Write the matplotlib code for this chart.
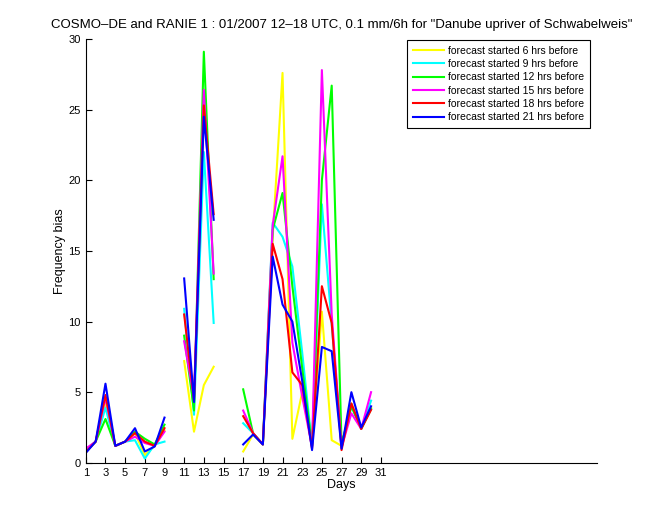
import numpy as np
import matplotlib
matplotlib.use("Agg")
import matplotlib.pyplot as plt

plt.rcParams['font.family'] = ['Liberation Sans', 'DejaVu Sans']

nan = np.nan
days = np.arange(1, 31)

# frequency bias per forecast start (NaN = no data)
bias_6h = [0.9, 1.5, 4.3, 1.2, 1.5, 2.1, 0.55, 1.2, 2.3, nan,
           7.2, 2.2, 5.5, 6.8, nan, nan, 0.8, 2.0, 1.3, 16.0,
           27.6, 1.7, 5.0, 1.3, 10.7, 1.6, 1.2, 4.2, 2.4, 3.9]
bias_9h = [0.95, 1.5, 3.9, 1.2, 1.5, 1.6, 0.3, 1.3, 1.5, nan,
           10.9, 3.4, 22.0, 9.9, nan, nan, 2.8, 2.1, 1.3, 17.0,
           16.0, 13.9, 7.8, 1.2, 18.3, 9.8, 1.2, 4.0, 2.4, 4.4]
bias_12h = [0.8, 1.5, 3.1, 1.2, 1.5, 2.2, 1.7, 1.3, 2.7, nan,
            9.0, 3.7, 29.1, 13.0, nan, nan, 5.2, 2.1, 1.3, 16.5,
            19.1, 12.5, 6.7, 1.2, 20.0, 26.7, 1.3, 4.0, 2.4, 3.8]
bias_15h = [1.0, 1.5, 4.6, 1.2, 1.5, 1.85, 1.4, 1.2, 2.2, nan,
            8.6, 4.6, 26.4, 13.4, nan, nan, 3.7, 2.1, 1.3, 16.8,
            21.7, 8.5, 4.7, 1.1, 27.8, 10.5, 1.1, 3.5, 2.4, 5.0]
bias_18h = [0.75, 1.5, 4.8, 1.2, 1.5, 2.1, 1.5, 1.2, 2.45, nan,
            10.5, 4.4, 25.3, 17.6, nan, nan, 3.3, 2.1, 1.3, 15.5,
            13.0, 6.4, 5.5, 1.0, 12.5, 9.9, 0.9, 4.2, 2.4, 3.75]
bias_21h = [0.7, 1.5, 5.6, 1.2, 1.5, 2.45, 0.8, 1.15, 3.2, nan,
            13.05, 4.3, 24.5, 17.2, nan, nan, 1.3, 2.0, 1.3, 14.6,
            11.2, 10.0, 5.8, 0.9, 8.2, 7.9, 1.0, 5.0, 2.5, 4.0]

labels = ["forecast started 6 hrs before", "forecast started 9 hrs before",
          "forecast started 12 hrs before", "forecast started 15 hrs before",
          "forecast started 18 hrs before", "forecast started 21 hrs before"]
colors = ["#ffff00", "#00ffff", "#00ff00", "#ff00ff", "#ff0000", "#0000ff"]
series = [bias_6h, bias_9h, bias_12h, bias_15h, bias_18h, bias_21h]

fig = plt.figure(figsize=(6.6, 5.2), dpi=100)
ax = fig.add_axes([0.13, 0.11, 0.775, 0.815])

for vals, c, lab in zip(series, colors, labels):
    ax.plot(days, vals, color=c, lw=1.5, label=lab)

ax.set_xlim(1, 53)
ax.set_ylim(0, 30)
ax.set_xticks(np.arange(1, 32, 2))
ax.set_yticks(np.arange(0, 31, 5))
ax.tick_params(direction="in", length=4, labelsize=8, top=False, right=False)
ax.spines["top"].set_visible(False)
ax.spines["right"].set_visible(False)

ax.set_xlabel("Days", fontsize=9, labelpad=1)
ax.set_ylabel("Frequency bias", fontsize=9, labelpad=2)
ax.set_title('COSMO\u2013DE and RANIE 1 : 01/2007 12\u201318 UTC, 0.1 mm/6h for "Danube upriver of Schwabelweis"',
             fontsize=9.5, pad=8)

leg = ax.legend(loc="upper right", bbox_to_anchor=(590 / 660, 1 - 40 / 520),
                bbox_transform=fig.transFigure, fontsize=7.5, fancybox=False,
                edgecolor="black", framealpha=1, handlelength=3.0,
                handletextpad=0.4, labelspacing=0.32, borderpad=0.55,
                borderaxespad=0)
leg.get_frame().set_linewidth(0.8)

fig.savefig("out.png", dpi=100)
